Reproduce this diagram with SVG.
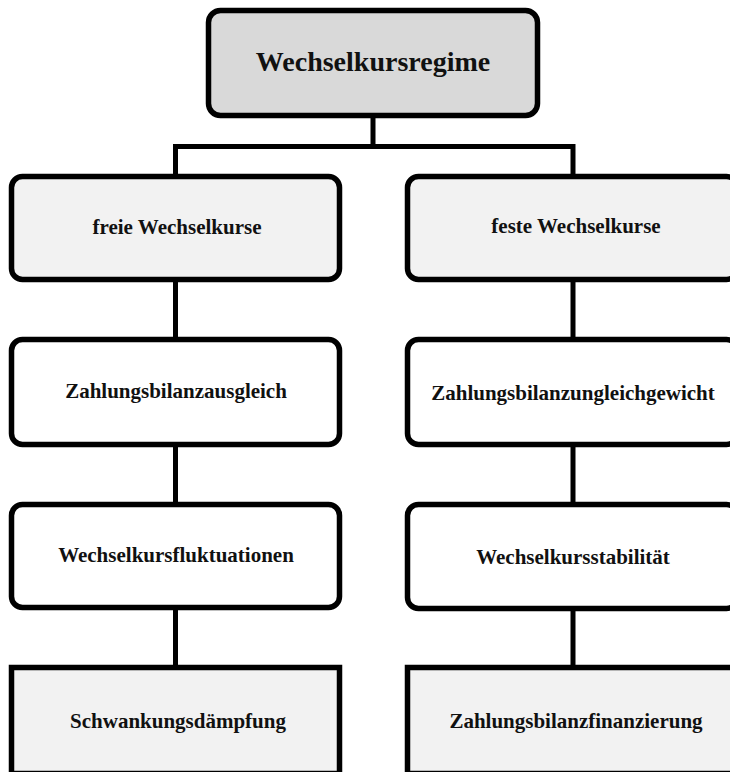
<svg xmlns="http://www.w3.org/2000/svg" width="730" height="772" viewBox="0 0 730 772">
<style>
.box{stroke:#000;stroke-width:5.5}
.r{rx:11;ry:11}
.t{font-family:"Liberation Serif","Times New Roman",serif;font-weight:bold;font-size:21px;fill:#111;text-anchor:middle}
.title{font-size:28px}
.c{stroke:#000;stroke-width:5;fill:none}
</style>
<rect width="730" height="772" fill="#fff"/>
<g id="connectors">
<path class="c" d="M373 118V146.5M173 146.5H575.5M175.5 146.5V175M573 146.5V175"/>
<path class="c" d="M175.5 282V338M175.5 447V503M175.5 610V666"/>
<path class="c" d="M573 282V338M573 447V503M573 610V666"/>
</g>
<g id="n0"><rect class="box" x="208.5" y="10.5" width="329" height="105" rx="12" fill="#d9d9d9"/><text class="t title" x="373" y="71">Wechselkursregime</text></g>
<g id="n1"><rect class="box" x="11.5" y="176.5" width="328" height="103" rx="11" fill="#f2f2f2"/><text class="t" x="177" y="234">freie Wechselkurse</text></g>
<g id="n2"><rect class="box" x="407.5" y="176.5" width="330" height="103" rx="11" fill="#f2f2f2"/><text class="t" x="576" y="233">feste Wechselkurse</text></g>
<g id="n3"><rect class="box" x="11.5" y="339.5" width="328" height="105" rx="11" fill="#fff"/><text class="t" x="176" y="398">Zahlungsbilanzausgleich</text></g>
<g id="n4"><rect class="box" x="407.5" y="339.5" width="330" height="105" rx="11" fill="#fff"/><text class="t" x="573" y="400">Zahlungsbilanzungleichgewicht</text></g>
<g id="n5"><rect class="box" x="11.5" y="504.5" width="328" height="103" rx="11" fill="#fff"/><text class="t" x="176" y="562">Wechselkursfluktuationen</text></g>
<g id="n6"><rect class="box" x="407.5" y="504.5" width="330" height="104" rx="11" fill="#fff"/><text class="t" x="573" y="564">Wechselkursstabilität</text></g>
<g id="n7"><rect class="box" x="11.5" y="667.5" width="328" height="106" fill="#f2f2f2"/><text class="t" x="178" y="728">Schwankungsdämpfung</text></g>
<g id="n8"><rect class="box" x="407.5" y="667.5" width="330" height="106" fill="#f2f2f2"/><text class="t" x="576" y="728">Zahlungsbilanzfinanzierung</text></g>
</svg>
